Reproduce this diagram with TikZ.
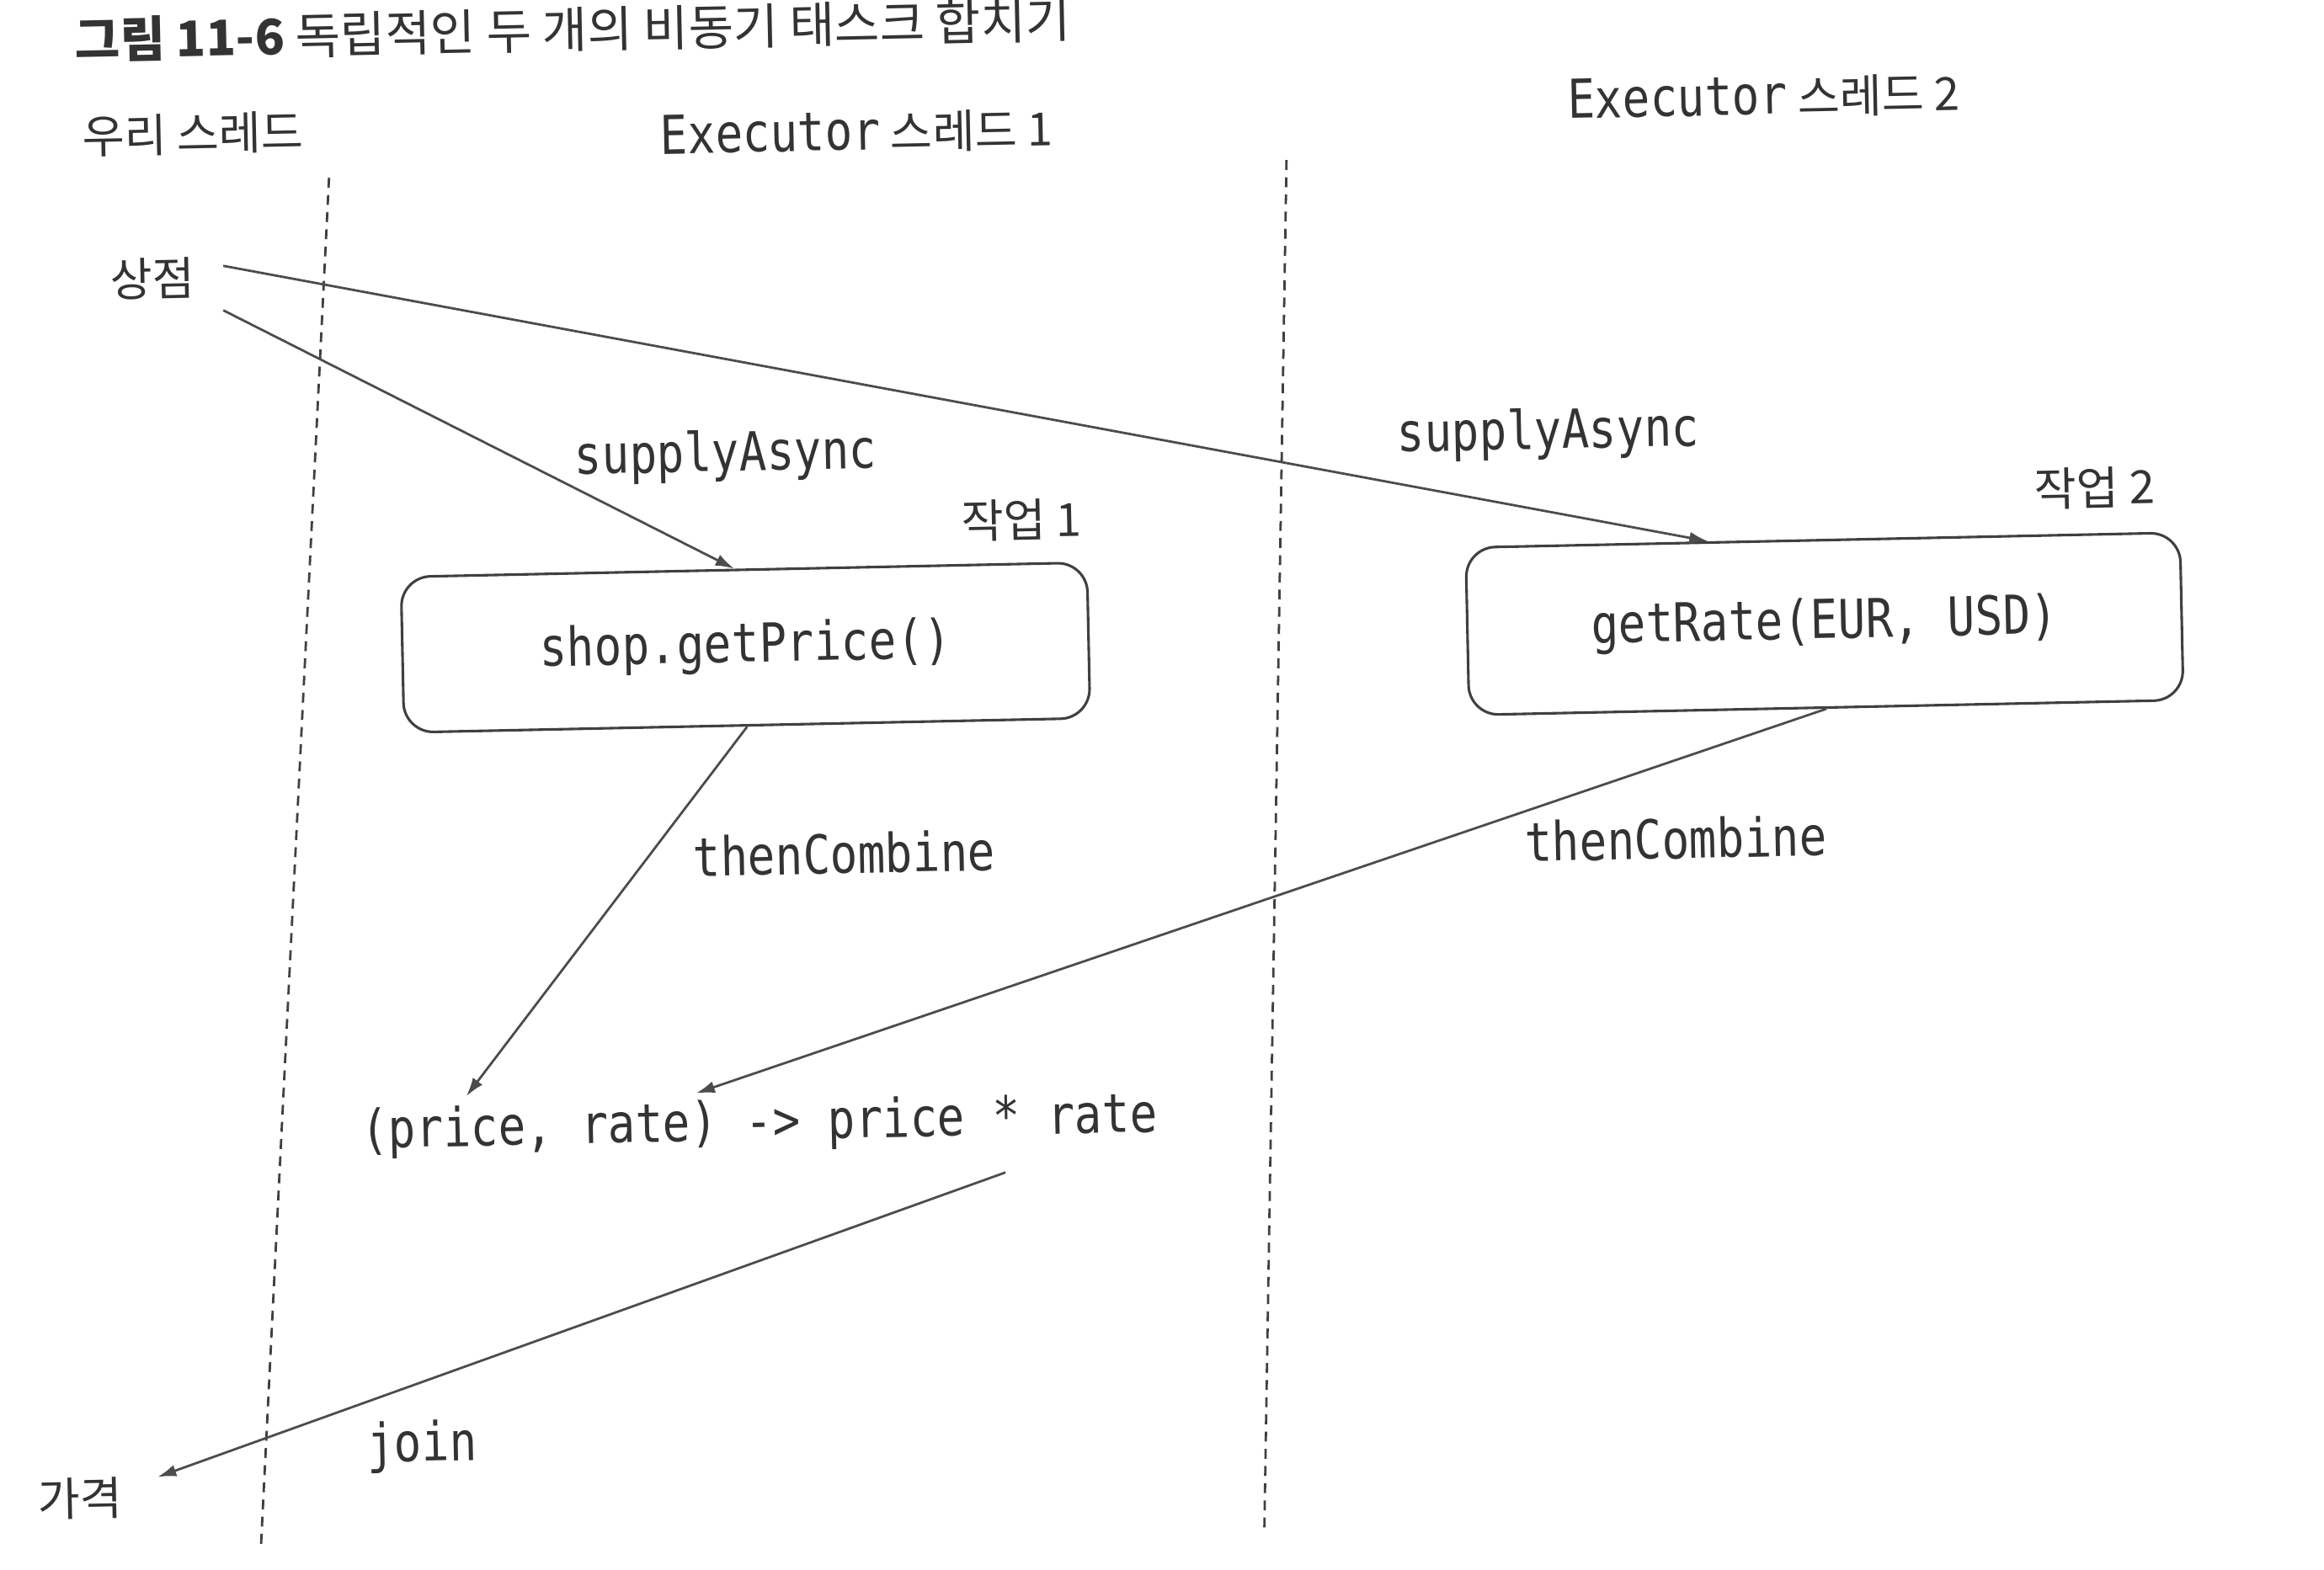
\documentclass[tikz,border=0pt]{standalone}
\usepackage{fontspec}
\setmainfont{Noto Sans CJK KR}
\newfontfamily\codefont[FakeStretch=0.85]{DejaVu Sans Mono}
\usetikzlibrary{arrows.meta,calc}

\begin{document}
\begin{tikzpicture}
  \useasboundingbox (0,0) rectangle (15.68,-10.59);

  \tikzset{code/.style={font=\codefont\fontsize{10.3}{12}\selectfont},
           task/.style={draw=black!75, line width=0.5pt, rounded corners=0.2cm}}

  \begin{scope}[every node/.style={inner sep=0pt, rotate=1.2, text=black!80, font=\fontsize{8.8}{10}\selectfont}]
      \node[anchor=west, font=\fontsize{9.4}{11}\selectfont] (title) at (0.50,-0.27) {\textbf{그림 11-6} 독립적인 두 개의 비동기 태스크 합치기};

      \node[anchor=west] (ours) at (0.55,-0.92) {우리 스레드};
      \node[anchor=west] (exec1) at (4.45,-0.92) {{\codefont\fontsize{10.3}{12}\selectfont Executor} 스레드 1};
      \node[anchor=west] (exec2) at (10.57,-0.68) {{\codefont\fontsize{10.3}{12}\selectfont Executor} 스레드 2};

      \node (shop) at (1.03,-1.88) {상점};

      \node[anchor=west, code] (sup1) at (3.87,-3.10) {supplyAsync};
      \node[anchor=west, code] (sup2) at (9.42,-2.95) {supplyAsync};
      \node[anchor=west] (job1) at (6.48,-3.52) {작업 1};
      \node[anchor=west] (job2) at (13.72,-3.30) {작업 2};

      \node[task, code, minimum width=4.63cm, minimum height=1.05cm] (box1) at (5.03,-4.37) {shop.getPrice()};
      \node[task, code, minimum width=4.82cm, minimum height=1.13cm] (box2) at (12.31,-4.21) {getRate(EUR, USD)};

      \node[anchor=west, code] (comb1) at (4.67,-5.78) {thenCombine};
      \node[anchor=west, code] (comb2) at (10.28,-5.68) {thenCombine};

      \node[anchor=west, code] (lambda) at (2.43,-7.65) {(price, rate) -> price * rate};

      \node[anchor=west, code] (join) at (2.47,-9.77) {join};
      \node[anchor=west] (price) at (0.25,-10.12) {가격};
  \end{scope}

  \tikzset{thin arc/.style={-{Latex[length=3.6pt,width=2.3pt]}, draw=black!70, line width=0.45pt},
           lane/.style={draw=black!75, line width=0.45pt, dash pattern=on 1.9pt off 1.4pt}}

  \draw[lane] (2.22,-1.20) -- (1.76,-10.45);
  \draw[lane] (8.68,-1.08) -- (8.53,-10.35);

  \draw[thin arc] ([shift={(0.185,0.08)}]shop.east) -- ($(box2.north west)!0.34!(box2.north east)$);
  \draw[thin arc] ([shift={(0.185,-0.22)}]shop.east) -- ($(box1.north west)!0.486!(box1.north east)$);

  \draw[thin arc] (box1.south) -- ([shift={(0.72,0.07)}]lambda.north west);
  \draw[thin arc] (box2.south) -- ([shift={(2.27,0.09)}]lambda.north west);

  \draw[thin arc] ([shift={(4.35,-0.08)}]lambda.south west) -- ([shift={(0.23,0.14)}]price.east);

\end{tikzpicture}
\end{document}
